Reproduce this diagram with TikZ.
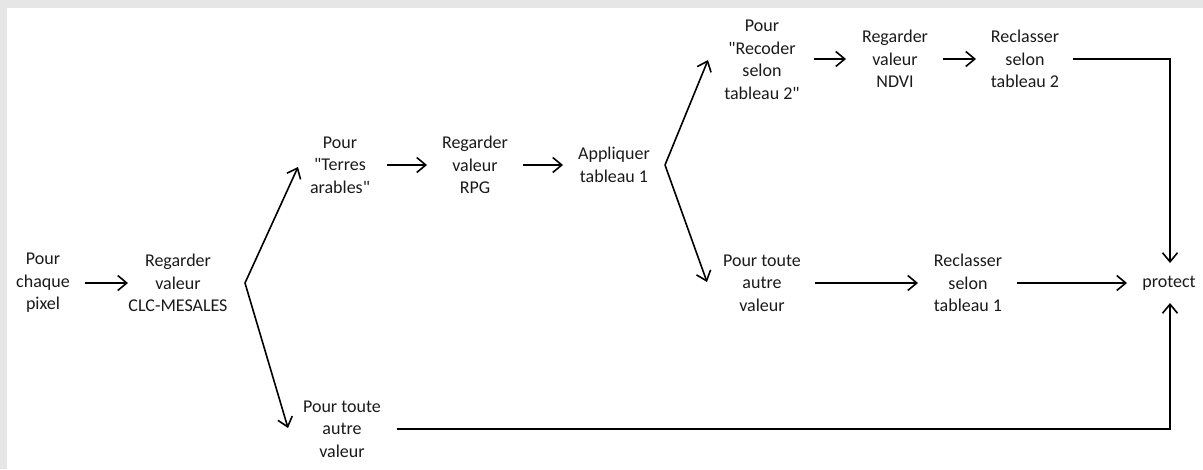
\documentclass[tikz,border=0pt]{standalone}
\usepackage{fontspec}
\setmainfont[Ligatures=TeXOff]{Carlito}
\usetikzlibrary{arrows.meta}
\definecolor{txt}{HTML}{1A1A1A}
\definecolor{frame}{HTML}{E6E6E6}
\begin{document}
\begin{tikzpicture}[x=1pt,y=-1pt,
  lbl/.style={align=center,inner sep=0pt,text=txt,font=\fontsize{18}{22.5}\selectfont},
  arr/.style={line width=1.6pt,-{Straight Barb[length=9pt,width=15pt,line width=1.6pt]}},
  ln/.style={line width=1.6pt}]
\useasboundingbox (0,0) rectangle (1203,469);
\fill[frame] (0,0) rectangle (1203,8);
\fill[frame] (0,0) rectangle (7,469);
\node[lbl] (pix) at (43,283) {Pour\\chaque\\pixel};
\node[lbl] (clc) at (178,283) {Regarder\\valeur\\CLC-MESALES};
\node[lbl] (ter) at (340,165) {Pour\\"Terres\\arables"};
\node[lbl] (oth1) at (342,429) {Pour toute\\autre\\valeur};
\node[lbl] (rpg) at (475,165) {Regarder\\valeur\\RPG};
\node[lbl] (app) at (614,165) {Appliquer\\tableau 1};
\node[lbl] (rec) at (762,60) {Pour\\"Recoder\\selon\\tableau 2"};
\node[lbl] (oth2) at (762,283) {Pour toute\\autre\\valeur};
\node[lbl] (ndvi) at (895,59) {Regarder\\valeur\\NDVI};
\node[lbl] (rc2) at (1025,59) {Reclasser\\selon\\tableau 2};
\node[lbl] (rc1) at (968,283) {Reclasser\\selon\\tableau 1};
\node[lbl] (prot) at (1169,283) {protect};
\coordinate (v1) at (245,283);
\coordinate (v2) at (665,165);
\draw[arr] ([xshift=42]pix.center) -- ([xshift=-50]clc.center);
\draw[arr] (v1) -- ([shift={(-42,2)}]ter.center);
\draw[arr] (v1) -- ([shift={(-54,-1)}]oth1.center);
\draw[arr] ([xshift=47]ter.center) -- ([xshift=-48]rpg.center);
\draw[arr] ([xshift=48]rpg.center) -- ([xshift=-51]app.center);
\draw[arr] (v2) -- ([xshift=-54]rec.center);
\draw[arr] (v2) -- ([shift={(-55,-1)}]oth2.center);
\draw[arr] ([shift={(52,-1)}]rec.center) -- ([xshift=-49]ndvi.center);
\draw[arr] ([xshift=48]ndvi.center) -- ([xshift=-49]rc2.center);
\draw[arr] ([xshift=48]rc2.center) -| ([shift={(1,-20)}]prot.center);
\draw[arr] ([xshift=53]oth2.center) -- ([xshift=-50]rc1.center);
\draw[arr] ([xshift=49]rc1.center) -- ([xshift=-42]prot.center);
\draw[arr] ([xshift=55]oth1.center) -| ([shift={(1,20)}]prot.center);
\end{tikzpicture}
\end{document}
